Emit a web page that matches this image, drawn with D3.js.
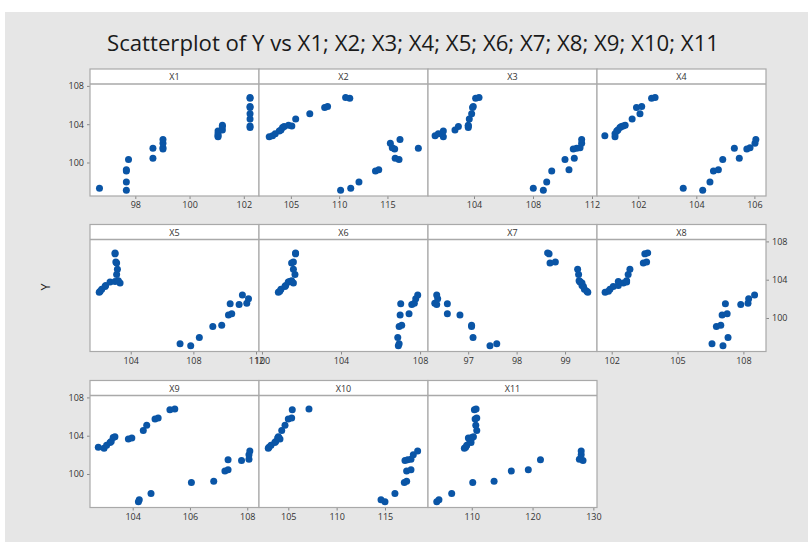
<!DOCTYPE html>
<html><head><meta charset="utf-8">
<script src="https://cdn.jsdelivr.net/npm/d3@7"></script>
<style>body{margin:0;background:#fff}svg{display:block}</style>
</head><body>
<svg id="c" width="808" height="542"></svg>
<script>
const title = "Scatterplot of Y vs X1; X2; X3; X4; X5; X6; X7; X8; X9; X10; X11";
const panelNames = ["X1","X2","X3","X4","X5","X6","X7","X8","X9","X10","X11"];
const Y = [102.7,102.8,103.0,103.3,103.4,103.65,103.75,103.8,103.9,104.55,105.1,105.75,105.85,106.7,106.8,
  97.1,97.3,97.95,99.1,99.25,100.3,100.45,101.5,101.4,101.55,102.0,102.4];
const X1 = [101.05,101.05,101.05,101.05,101.21,102.23,101.21,102.23,101.21,102.23,102.23,102.23,102.23,102.23,102.23,
  97.67,96.68,97.67,97.67,97.67,97.75,98.65,98.65,99.02,99.02,99.02,99.02];
const X2 = [102.76,103.1,103.38,103.8,103.97,104.14,104.3,105.1,104.76,105.5,106.96,108.5,108.8,111.1,110.67,
  110.15,111.2,112.05,113.76,114.1,116.2,115.8,118.2,115.75,115.5,115.3,116.3];
const X3 = [101.92,101.36,101.58,101.92,102.71,103.61,102.94,103.61,103.61,103.68,103.84,103.9,103.95,104.11,104.34,
  108.7,108.02,108.93,109.27,110.44,110.17,110.8,110.96,110.73,111.19,111.3,111.3];
const X4 = [101.2,100.85,101.2,101.26,101.3,101.37,101.42,101.48,101.55,101.79,102.06,101.94,102.12,102.46,102.58,
  104.22,103.55,104.47,104.59,104.76,104.91,105.48,105.31,105.74,105.85,106.02,106.05];
const X5 = [101.99,102.05,102.15,102.36,102.4,103.32,102.68,103.0,103.21,103.1,103.15,103.1,103.05,103.0,103.0,
  107.83,107.15,108.38,109.24,109.81,110.24,110.45,110.35,110.92,111.41,111.52,111.13];
const X6 = [100.83,100.9,100.96,101.16,101.2,101.59,101.33,101.4,101.5,101.67,101.59,101.5,101.59,101.7,101.7,
  106.9,106.94,106.87,106.94,107.07,106.99,107.44,107.02,107.58,107.71,107.78,107.88];
const X7 = [99.47,99.45,99.4,99.38,99.35,99.35,99.31,99.31,99.29,99.28,99.26,98.69,98.8,98.67,98.64,
  97.45,97.59,97.1,97.07,97.07,96.83,96.57,96.57,96.35,96.31,96.37,96.35];
const X8 = [101.7,101.85,101.92,102.07,102.3,102.53,102.68,102.3,102.68,102.75,102.83,103.44,103.59,103.51,103.64,
  107.07,106.57,107.3,106.77,106.97,107.03,107.26,107.18,107.88,108.21,108.24,108.51];
const X9 = [103.0,102.8,103.09,103.21,103.25,103.85,103.97,103.32,103.38,104.37,104.49,104.78,104.89,105.3,105.47,
  104.2,104.23,104.64,106.05,106.83,107.22,107.33,107.33,107.8,108.06,108.06,108.09];
const X10 = [102.93,103.0,103.21,103.6,103.7,104.14,103.9,104.0,103.97,104.32,104.66,105.0,105.35,105.41,107.14,
  115.0,114.59,116.03,117.0,117.24,117.24,117.69,117.35,117.07,117.69,117.93,118.38];
const X11 = [108.78,109.0,109.18,109.88,109.7,109.9,109.44,110.0,110.27,110.82,110.66,110.55,110.82,110.43,110.71,
  104.24,104.6,106.7,110.16,113.67,116.5,119.3,121.3,128.3,127.7,128.0,128.0];
const xDomains = [[96.33,102.56],[101.7,119.2],[100.88,112.34],[100.58,106.4],[101.4,112.19],[99.85,108.4],
  [96.17,99.66],[101.33,109.03],[102.51,108.41],[101.97,119.45],[102.8,130.6]];
const xTicks = [[98,100,102],[105,110,115],[104,108,112],[102,104,106],[104,108,112],[100,104,108],
  [97,98,99],[102,105,108],[104,106,108],[105,110,115],[110,120,130]];
const yDomain = [96.5,108.2];
const yTicks = [100,104,108];
const xs = [X1,X2,X3,X4,X5,X6,X7,X8,X9,X10,X11];

const svg = d3.select("#c");
const font = "'Open Sans', 'Noto Sans', sans-serif";
svg.append("rect").attr("x",5).attr("y",12).attr("width",803).attr("height",530).attr("fill","#e6e6e6");
svg.append("text").attr("x",413).attr("y",51).attr("text-anchor","middle")
  .attr("font-family",font).attr("font-size",21.5).attr("fill","#1a1a1a")
  .attr("textLength",612).attr("lengthAdjust","spacingAndGlyphs").text(title);
svg.append("text").attr("transform","translate(50,287) rotate(-90)").attr("text-anchor","middle")
  .attr("font-family",font).attr("font-size",12.5).attr("fill","#222").text("Y");

const colX = [90,259,428,597], pw = 169;
const rowY = [69,224.5,380.5], stripH = 15, plotH = 112;
const gridC = "#a9a9a9";

panelNames.forEach((name,i)=>{
  const r = Math.floor(i/4), c = i%4;
  const g = svg.append("g").attr("transform",`translate(${colX[c]},${rowY[r]})`);
  const x = d3.scaleLinear().domain(xDomains[i]).range([0,pw]);
  const y = d3.scaleLinear().domain(yDomain).range([stripH+plotH, stripH]);
  g.append("rect").attr("x",0).attr("y",stripH).attr("width",pw).attr("height",plotH).attr("fill","#fff");
  g.append("rect").attr("x",0).attr("y",0).attr("width",pw).attr("height",stripH).attr("fill","#fff");
  g.append("text").attr("x",pw/2).attr("y",11).attr("text-anchor","middle")
    .attr("font-family",font).attr("font-size",9).attr("fill","#333").text(name);
  const ax = g.append("g").attr("transform",`translate(0,${stripH+plotH})`)
    .call(d3.axisBottom(x).tickValues(xTicks[i]).tickSize(3).tickSizeOuter(0).tickFormat(d3.format("d")));
  styleAxis(ax);
  if (c===0 && r!==1) {
    const ay = g.append("g").call(d3.axisLeft(y).tickValues(yTicks).tickSize(3).tickSizeOuter(0));
    styleAxis(ay);
  }
  if (r===1 && c===3) {
    const ay = g.append("g").attr("transform",`translate(${pw},0)`)
      .call(d3.axisRight(y).tickValues(yTicks).tickSize(3).tickSizeOuter(0));
    styleAxis(ay);
  }
  g.append("g").selectAll("circle").data(xs[i].map((v,k)=>[v,Y[k]])).join("circle")
    .attr("cx",d=>x(d[0])).attr("cy",d=>y(d[1])).attr("r",3.5).attr("fill","#0a55a6");
  g.append("rect").attr("x",0).attr("y",0).attr("width",pw).attr("height",stripH+plotH)
    .attr("fill","none").attr("stroke",gridC).attr("stroke-width",1.2);
  g.append("line").attr("x1",0).attr("x2",pw).attr("y1",stripH).attr("y2",stripH)
    .attr("stroke",gridC).attr("stroke-width",1.6);
});
function styleAxis(a){
  a.select(".domain").remove();
  a.selectAll(".tick line").attr("stroke","#888");
  a.selectAll(".tick text").attr("font-family",font).attr("font-size",9).attr("fill","#333");
}
</script>
</body></html>
